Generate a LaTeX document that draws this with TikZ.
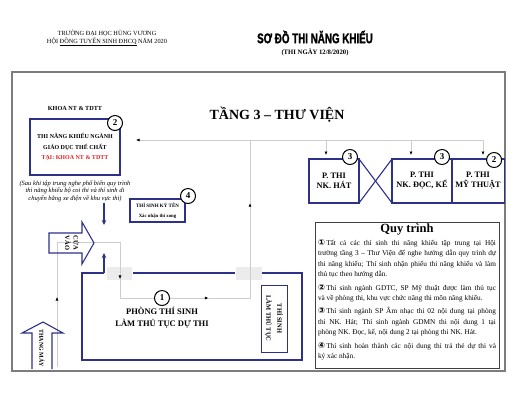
\documentclass[tikz,border=0pt]{standalone}
\usepackage{fontspec}
\setmainfont{Liberation Serif}
\newfontfamily\headfont[FakeStretch=0.7, BoldFeatures={FakeBold=1.5}]{Liberation Sans}
\newfontfamily\symfont{DejaVu Sans}
\usepackage{tikz}
\usetikzlibrary{arrows.meta,shapes,positioning,calc}
\definecolor{navy}{RGB}{46,49,140}
\definecolor{tdred}{RGB}{228,30,36}
\definecolor{pathgray}{RGB}{205,205,205}
\definecolor{doorgray}{RGB}{236,236,236}
\definecolor{framegray}{RGB}{125,125,125}
\newcommand{\fsz}[2]{\fontsize{#1}{#2}\selectfont}
\newcommand{\cnum}[1]{{\symfont\bfseries\fsz{8.3}{10.4}#1}\,}
\tikzstyle{roombox}=[rectangle, draw=navy, line width=1.1pt, fill=white, outer sep=0pt, align=center, font=\bfseries\fsz{8.3}{10}]
\tikzstyle{numcirc}=[circle, draw, line width=1pt, fill=white, minimum size=15pt, inner sep=0pt, font=\bfseries\fsz{9}{9}]
\tikzstyle{pathline}=[draw=pathgray, line width=0.6pt]
\tikzstyle{pathtip}=[pathline, -{Latex[color=black,length=3.5pt,width=3pt]}]
\tikzstyle{walkarrow}=[draw=navy, line width=1.2pt, -{Stealth[length=5pt,width=4.5pt]}]
\tikzstyle{wall}=[draw=navy, line width=1.2pt]
\tikzstyle{bigarrow}=[draw=navy, line width=1.1pt, line join=miter]

\begin{document}
\begin{tikzpicture}[x=1pt, y=-1pt]
  \useasboundingbox (0,0) rectangle (518,400);

  \node[align=center, font=\fsz{6.3}{8}] (school) at (107,38) {TRƯỜNG ĐẠI HỌC HÙNG VƯƠNG\\HỘI \underline{ĐỒNG TUYỂN SINH ĐHCQ} NĂM 2020};
  \node[font=\headfont\bfseries\fsz{14}{14}] (title) at (315,37) {SƠ ĐỒ THI NĂNG KHIẾU};
  \node[font=\bfseries\fsz{6.7}{8}] (date) at (315,52) {(THI NGÀY 12/8/2020)};

  \draw[draw=framegray, line width=1.6pt] (12,72) rectangle (505,371);
  \node[font=\bfseries\fsz{14}{14}] (floor) at (277,115) {TẦNG 3 – THƯ VIỆN};

  % doors
  \fill[doorgray] (107,267) rectangle (132,280);
  \fill[doorgray] (236,267) rectangle (262,280);

  % walking path
  \coordinate (p0) at (57,367);
  \coordinate (p1) at (57,242);
  \coordinate (p2) at (120,242);
  \coordinate (p3) at (120,298);
  \coordinate (p4) at (250,298);
  \coordinate (p5) at (250,140);
  \coordinate (pl) at (136,140);
  \coordinate (pr) at (483,140);
  \coordinate (pm) at (411,140);
  \coordinate (ph) at (326,140);
  \draw[pathline] (p0) -- (p1) -- (p2) -- (p3) -- (p4) -- (p5);
  \draw[pathline] (p5) -- (pr);
  \draw[pathtip] (p0) -- ($(p0)!0.56!(p1)$);
  \draw[pathtip] (p2) -- ($(p2)!0.66!(p3)$);
  \draw[pathtip] (p3) -- ($(p3)!0.68!(p4)$);
  \draw[pathtip] (p4) -- ($(p4)!0.6!(p5)$);
  \draw[pathtip] (p5) -- (pl);

  \node[roombox, minimum width=90pt, minimum height=56pt, font=\bfseries\fsz{6}{10.5}] (gdtc) at (75,147)
    {THI NĂNG KHIẾU NGÀNH\\GIÁO DỤC THỂ CHẤT\\\textcolor{tdred}{TẠI: KHOA NT \& TDTT}};
  \node[font=\bfseries\fsz{6.2}{7}, above=5pt of gdtc] (khoa) {KHOA NT \& TDTT};
  \node[align=center, font=\itshape\fsz{6.5}{7.7}, below=2pt of gdtc] (note)
    {(Sau khi tập trung nghe phổ biến quy trình\\thi năng khiếu bộ coi thi và thí sinh di\\chuyển bằng xe điện về khu vực thi)};
  \node[numcirc] (c2a) at ($(gdtc.north east)+(-5,4)$) {2};

  \node[roombox, minimum width=55pt, minimum height=23pt, font=\bfseries\fsz{5}{10}] (kyten) at (157.5,210.5)
    {THÍ SINH KÝ TÊN\\{\fsz{4.8}{10}Xác nhận thi xong}};
  \node[numcirc] (c4) at ($(kyten.north east)+(3,-3)$) {4};

  \coordinate (w1) at (104,203);
  \coordinate (w2) at (104,225);
  \coordinate (w3) at (104,273);
  \coordinate (w4) at (104,253);
  \draw[walkarrow] (w1) -- (w2);
  \draw[walkarrow] (w3) -- (w4);

  % entrance and lift
  \draw[bigarrow] (49,233) -- (82,233) -- (82,222) -- (94,243) -- (82,264) -- (82,253) -- (49,253) -- cycle;
  \node[rotate=-90, align=center, font=\bfseries\fsz{6.5}{8.5}] (cuavao) at (72,243) {CỬA\\VÀO};
  \draw[bigarrow] (32,369) -- (32,333) -- (22,333) -- (43,322) -- (63,333) -- (52,333) -- (52,369);
  \node[rotate=-90, font=\bfseries\fsz{6}{7}] (thangmay) at (42,348) {THANG MÁY};

  % room 1
  \draw[wall] (104,273) -- (82,273) -- (82,360) -- (302,360) -- (302,273) -- (262,273);
  \draw[wall] (133,273) -- (235,273);
  \node[numcirc] (c1) at (162,298) {1};
  \node[align=center, font=\bfseries\fsz{8.5}{12}] (phong) at (162,317.5) {PHÒNG THÍ SINH\\LÀM THỦ TỤC DỰ THI};
  \node[roombox, rotate=-90, minimum width=67pt, minimum height=26pt, line width=0.9pt, font=\bfseries\fsz{6.5}{11}] (lamtt) at (274,318.5)
    {THÍ SINH\\LÀM THỦ TỤC};

  % exam rooms
  \node[roombox, minimum width=50pt, minimum height=44pt] (hat) at (334,181) {P. THI\\NK. HÁT};
  \node[roombox, minimum width=60pt, minimum height=44pt, right=33pt of hat] (docke) {P. THI\\NK. ĐỌC, KỂ};
  \node[roombox, minimum width=50pt, minimum height=44pt, right=0pt of docke] (mythuat) {P. THI\\MỸ THUẬT};
  \draw[wall, line width=1.1pt] (hat.north east) -- (docke.south west);
  \draw[wall, line width=1.1pt] (hat.south east) -- (docke.north west);
  \draw[pathtip, shorten >=4pt] (ph) -- (ph |- hat.north);
  \draw[pathtip, shorten >=4pt] (pm) -- (pm |- docke.north);
  \draw[pathtip, shorten >=4pt] (pr) -- (pr |- mythuat.north);
  \node[numcirc] (c3a) at ($(hat.north east)+(-9,-2)$) {3};
  \node[numcirc] (c3b) at ($(docke.north east)+(-10,-2)$) {3};
  \node[numcirc] (c2b) at ($(mythuat.north east)+(-10,1)$) {2};

  % procedure
  \node[draw=black!75, line width=0.7pt, fill=white, minimum width=184pt, minimum height=146pt] (qtbox) at (407,295) {};
  \node[font=\bfseries\fsz{12.5}{13}, inner sep=1pt, below=1pt of qtbox.north] (qttitle) {Quy trình};
  \node[text width=178pt, align=justify, inner sep=0pt, font=\fsz{7.3}{10.4}, below=3pt of qttitle] (qtbody) {%
    \setlength{\parskip}{3pt}%
    \cnum{①}Tất cả các thí sinh thi năng khiếu tập trung tại Hội\linebreak
    trường tầng 3 – Thư Viện để nghe hướng dẫn quy trình dự\linebreak
    thi năng khiếu; Thí sinh nhận phiếu thi năng khiếu và làm\linebreak
    thủ tục theo hướng dẫn.\par
    \cnum{②}Thí sinh ngành GDTC, SP Mỹ thuật được làm thủ tục\linebreak
    và về phòng thi, khu vực chức năng thi môn năng khiếu.\par
    \cnum{③}Thí sinh ngành SP Âm nhạc thi 02 nội dung tại phòng\linebreak
    thi NK. Hát; Thí sinh ngành GDMN thi nội dung 1 tại\linebreak
    phòng NK. Đọc, kể, nội dung 2 tại phòng thi NK. Hát.\par
    \cnum{④}Thí sinh hoàn thành các nội dung thi trả thẻ dự thi và\linebreak
    ký xác nhận.};
\end{tikzpicture}
\end{document}
